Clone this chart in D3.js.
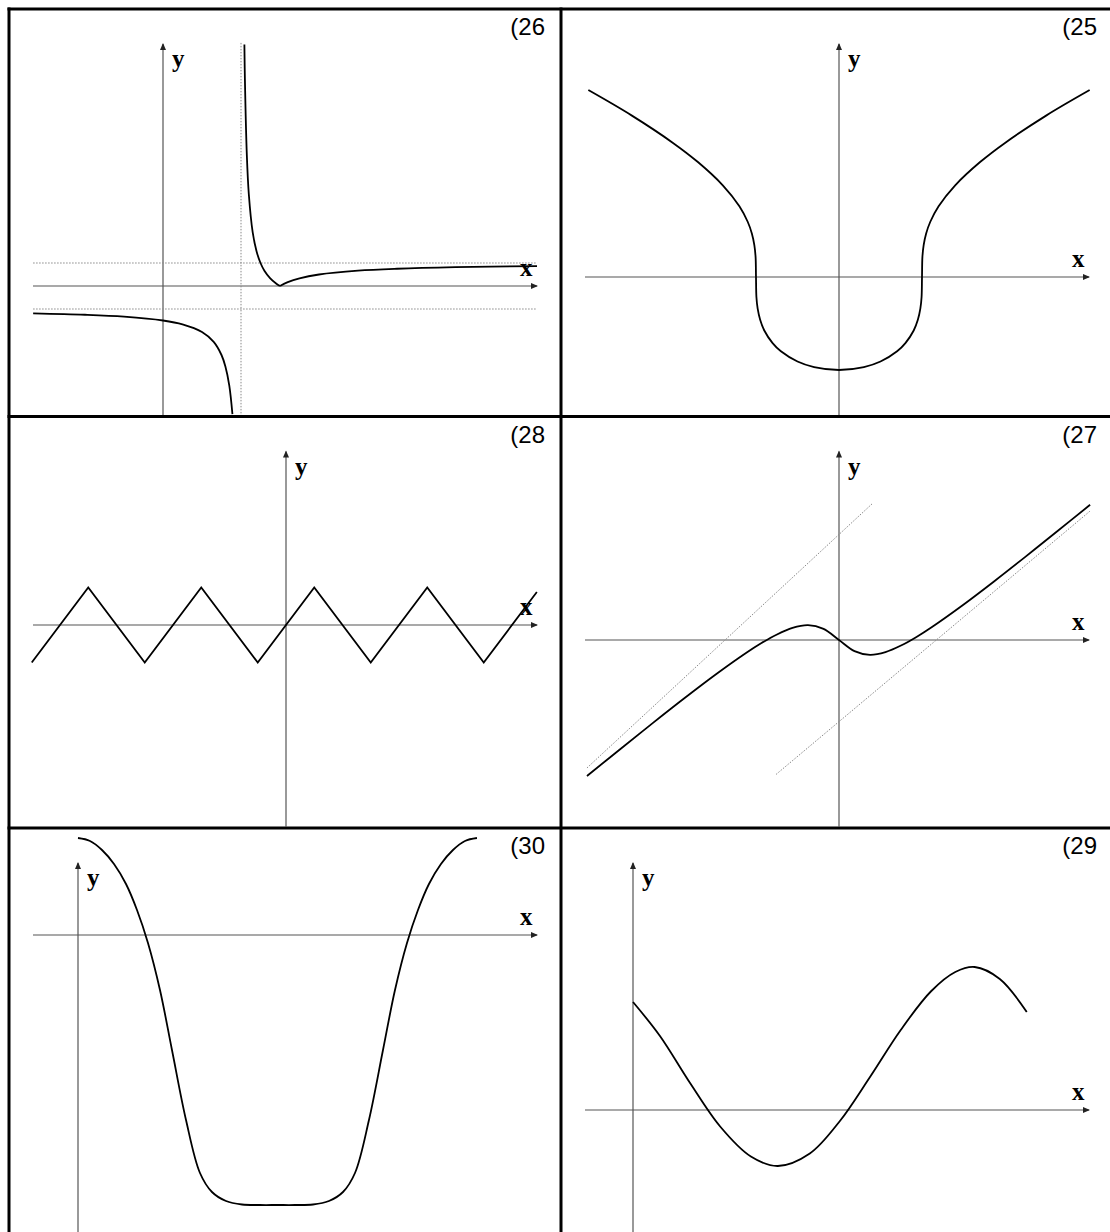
<!DOCTYPE html>
<html lang="en">
<head>
<meta charset="UTF-8">
<title>graphs 25-30</title>
<style>
  body { margin: 0; background: #fff; }
  svg { display: block; }
  .frame { stroke: #000; stroke-width: 3px; fill: none; }
  .axis { stroke: #555; stroke-width: 1.2px; fill: none; }
  .arrow { fill: #222; stroke: none; }
  .curve { stroke: #000; stroke-width: 1.8px; fill: none; }
  .guide { stroke: #888; stroke-width: 1px; stroke-dasharray: 1.5 1.5; fill: none; }
  .num { font-family: "Liberation Sans", Arial, sans-serif; font-size: 24px; }
  .var { font-family: "Liberation Serif", "Times New Roman", serif; font-weight: bold; font-size: 25px; }
</style>
</head>
<body>
<svg id="chart"></svg>
<script src="https://cdnjs.cloudflare.com/ajax/libs/d3/7.8.5/d3.min.js"></script>
<script>

// panel numbers, in reading order of the grid
var panelNames = ["(26", "(25", "(28", "(27", "(30", "(29"];

// (26) two branches, cusp at x = 3, asymptotes x = 2 and y = +-1
var c26Right = [[2.087, 10.5], [2.1, 9], [2.15, 5.67], [2.2, 4], [2.3, 2.33], [2.4, 1.5], [2.5, 1], [2.6, 0.667], [2.75, 0.333], [2.9, 0.111], [3, 0]];
var c26Tail = [[3, 0], [3.2, 0.167], [3.5, 0.333], [4, 0.5], [5, 0.667], [6, 0.75], [7.5, 0.818], [9.59, 0.868]];
var c26Left = [[-3.33, -1.19], [-2, -1.25], [-1, -1.333], [0, -1.5], [0.5, -1.667], [1, -2], [1.3, -2.43], [1.5, -3], [1.6, -3.5], [1.7, -4.33], [1.78, -5.57]];
var g26 = [[[2, 10.57], [2, -5.65]], [[-3.33, 1], [9.59, 1]], [[-3.33, -1], [9.59, -1]]];

// (25)
var c25 = [[-3.02, 2.01], [-2.5, 1.738], [-2, 1.442], [-1.7, 1.236], [-1.4, 0.986], [-1.2, 0.761], [-1.1, 0.594], [-1.05, 0.468], [-1.02, 0.343], [-1.005, 0.216], [-1, 0],
  [-0.995, -0.215], [-0.98, -0.341], [-0.95, -0.46], [-0.9, -0.575], [-0.8, -0.711], [-0.7, -0.799], [-0.5, -0.909], [-0.3, -0.969], [0, -1],
  [0.3, -0.969], [0.5, -0.909], [0.7, -0.799], [0.8, -0.711], [0.9, -0.575], [0.95, -0.46], [0.98, -0.341], [0.995, -0.215], [1, 0],
  [1.005, 0.216], [1.02, 0.343], [1.05, 0.468], [1.1, 0.594], [1.2, 0.761], [1.4, 0.986], [1.7, 1.236], [2, 1.442], [2.5, 1.738], [3.02, 2.01]];

// (28) zigzag
var c28 = [[-9, -1], [-7, 1], [-5, -1], [-3, 1], [-1, -1], [1, 1], [3, -1], [5, 1], [7, -1], [8.88, 0.88]];

// (27) with its two oblique asymptotes
var c27 = [[-8.13, -5.23], [-7, -4.142], [-6, -3.189], [-5, -2.253], [-4, -1.348], [-3, -0.502], [-2.5, -0.119], [-2, 0.214], [-1.5, 0.466], [-1, 0.571], [-0.5, 0.427], [0, 0],
  [0.5, -0.427], [1, -0.571], [1.5, -0.466], [2, -0.214], [2.5, 0.119], [3, 0.502], [4, 1.348], [5, 2.253], [6, 3.189], [7, 4.142], [8.1, 5.2]];
var g27 = [[[-8.13, -4.92], [1.097, 5.27]], [[-2.03, -5.17], [8.1, 4.96]]];

// (30) one period, flat bottom
var c30 = [[0, 1.94], [0.189, 1.88], [0.378, 1.70], [0.567, 1.42], [0.756, 1.02], [0.929, 0.50], [1.102, -0.16], [1.291, -1.10], [1.480, -2.30], [1.701, -3.70],
  [1.921, -4.76], [2.110, -5.14], [2.331, -5.32], [2.583, -5.39], [2.866, -5.40], [3.142, -5.40],
  [3.417, -5.40], [3.700, -5.39], [3.952, -5.32], [4.173, -5.14], [4.362, -4.76], [4.582, -3.70], [4.803, -2.30], [4.992, -1.10],
  [5.181, -0.16], [5.354, 0.50], [5.527, 1.02], [5.716, 1.42], [5.905, 1.70], [6.094, 1.88], [6.283, 1.94]];

// (29)
var c29 = [[0, 2.16], [0.43, 1.48], [0.91, 0.54], [1.39, -0.33], [1.88, -0.93], [2.31, -1.12], [2.82, -0.87], [3.30, -0.22], [3.78, 0.66], [4.27, 1.60], [4.75, 2.37], [5.14, 2.76], [5.45, 2.86], [5.85, 2.62], [6.28, 1.96]];

var width = 1110, height = 1232;
var svg = d3.select("#chart").attr("width", width).attr("height", height);

// grid cells
var colX = [9, 561, 1122], rowY = [9, 416.5, 828, 1240];

// per panel: origin, units (px)
var panels = [
  { ox: 163, oy: 286, ux: 39, uy: 23, curves: [[c26Right, "cr"], [c26Tail, "cr"], [c26Left, "cr"]], guides: g26 },
  { ox: 839, oy: 277, ux: 83, uy: 93, curves: [[c25, "cr"]], guides: [] },
  { ox: 286, oy: 625, ux: 28.25, uy: 37.5, curves: [[c28, "lin"]], guides: [] },
  { ox: 839, oy: 640, ux: 31, uy: 26, curves: [[c27, "cr"]], guides: g27 },
  { ox: 78, oy: 935, ux: 63.5, uy: 50, curves: [[c30, "cr"]], guides: [] },
  { ox: 633, oy: 1110, ux: 62.7, uy: 50, curves: [[c29, "cr"]], guides: [] }
];

var defs = svg.append("defs");

panels.forEach(function (p, i) {
  var col = i % 2, row = Math.floor(i / 2);
  var left = colX[col], right = colX[col + 1], top = rowY[row], bottom = rowY[row + 1];

  defs.append("clipPath").attr("id", "clip" + i)
    .append("rect").attr("x", left + 1.5).attr("y", top + 1.5)
    .attr("width", right - left - 3).attr("height", bottom - top - 3);

  var g = svg.append("g").attr("clip-path", "url(#clip" + i + ")");

  var x = d3.scaleLinear().domain([0, 1]).range([p.ox, p.ox + p.ux]);
  var y = d3.scaleLinear().domain([0, 1]).range([p.oy, p.oy - p.uy]);

  var xStart = left + 24, xEnd = left + 528;
  var yTop = top + 35;

  // axes
  g.append("line").attr("class", "axis")
    .attr("x1", xStart).attr("x2", xEnd).attr("y1", p.oy).attr("y2", p.oy);
  g.append("line").attr("class", "axis")
    .attr("x1", p.ox).attr("x2", p.ox).attr("y1", bottom).attr("y2", yTop);

  g.append("path").attr("class", "arrow")
    .attr("d", "M" + (xEnd + 1) + "," + p.oy + "L" + (xEnd - 6) + "," + (p.oy - 3) + "L" + (xEnd - 6) + "," + (p.oy + 3) + "Z");
  g.append("path").attr("class", "arrow")
    .attr("d", "M" + p.ox + "," + (yTop - 1) + "L" + (p.ox - 3) + "," + (yTop + 6) + "L" + (p.ox + 3) + "," + (yTop + 6) + "Z");

  // dotted asymptotes
  var line = d3.line().x(function (d) { return x(d[0]); }).y(function (d) { return y(d[1]); });
  g.selectAll(".guide").data(p.guides).enter().append("path")
    .attr("class", "guide").attr("d", line);

  // the graph itself
  p.curves.forEach(function (c) {
    var gen = d3.line()
      .x(function (d) { return x(d[0]); })
      .y(function (d) { return y(d[1]); })
      .curve(c[1] == "lin" ? d3.curveLinear : d3.curveCatmullRom.alpha(0.5));
    g.append("path").attr("class", "curve").attr("d", gen(c[0]));
  });

  // labels
  g.append("text").attr("class", "var").attr("x", p.ox + 9).attr("y", yTop + 23).text("y");
  g.append("text").attr("class", "var").attr("x", xEnd - 17).attr("y", p.oy - 10).text("x");
  svg.append("text").attr("class", "num").attr("text-anchor", "end")
    .attr("x", left + 536).attr("y", top + 26).text(panelNames[i]);
});

// frame lines
svg.append("line").attr("class", "frame").attr("x1", colX[0]).attr("x2", colX[0]).attr("y1", rowY[0] - 1.5).attr("y2", height);
svg.append("line").attr("class", "frame").attr("x1", colX[1]).attr("x2", colX[1]).attr("y1", rowY[0] - 1.5).attr("y2", height);
rowY.slice(0, 3).forEach(function (ry) {
  svg.append("line").attr("class", "frame").attr("x1", colX[0] - 1.5).attr("x2", width).attr("y1", ry).attr("y2", ry);
});

</script>
</body>
</html>
